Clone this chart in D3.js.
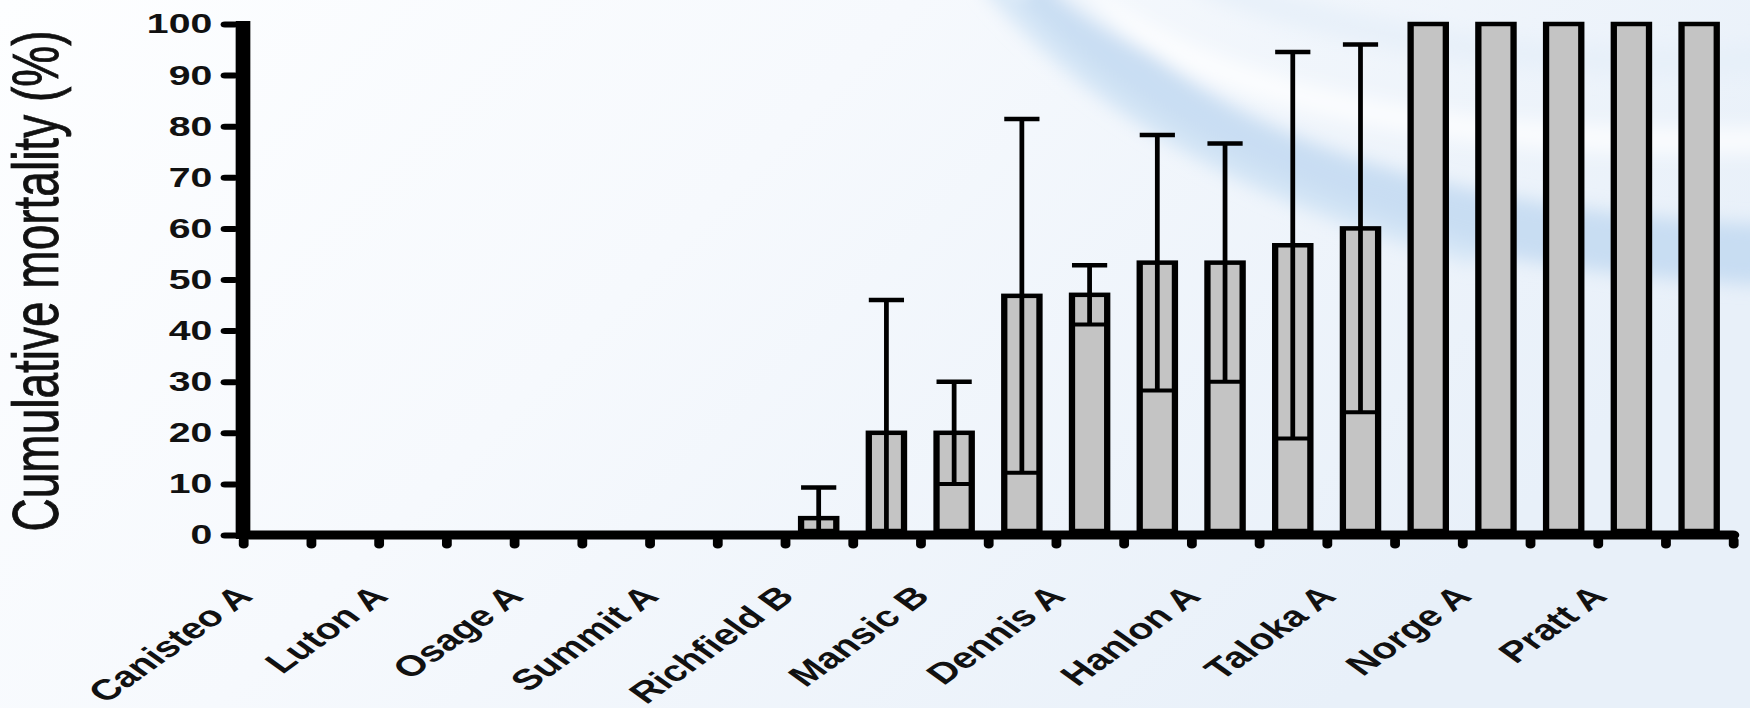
<!DOCTYPE html>
<html>
<head>
<meta charset="utf-8">
<script src="https://cdn.jsdelivr.net/npm/d3@7"></script>
<style>
  html, body { margin: 0; padding: 0; background: #fbfcfe; }
  svg { display: block; }
</style>
</head>
<body>
<svg id="chart" width="1750" height="708"></svg>
<script>
// sites along the x axis, only every other one carries a label
var siteLabels = ["Canisteo A", "", "Luton A", "", "Osage A", "", "Summit A", "", "Richfield B", "",
  "Mansic B", "", "Dennis A", "", "Hanlon A", "", "Taloka A", "", "Norge A", "", "Pratt A", ""];
// mean cumulative mortality (%) and error (+/-)
var mortality = [0, 0, 0, 0, 0, 0, 0, 0, 3.3, 20, 20, 46.8, 47, 53.3, 53.3, 56.7, 60, 100, 100, 100, 100, 100];
var errors    = [0, 0, 0, 0, 0, 0, 0, 0, 6, 26, 10, 34.6, 5.8, 25, 23.3, 37.8, 36, 0, 0, 0, 0, 0];
var yTicks = [0, 10, 20, 30, 40, 50, 60, 70, 80, 90, 100];

var W = 1750, H = 708;
var sx = 1.4; // the picture is stretched sideways

var svg = d3.select("#chart");
var defs = svg.append("defs");

var bg = defs.append("linearGradient").attr("id", "bg")
  .attr("x1", 0).attr("y1", 0).attr("x2", 1).attr("y2", 0.4);
bg.append("stop").attr("offset", "0%").attr("stop-color", "#fdfeff");
bg.append("stop").attr("offset", "45%").attr("stop-color", "#f6f9fd");
bg.append("stop").attr("offset", "100%").attr("stop-color", "#e8f0f9");
defs.append("filter").attr("id", "blur").attr("x", "-20%").attr("y", "-20%")
  .attr("width", "140%").attr("height", "140%")
  .append("feGaussianBlur").attr("stdDeviation", 9);

svg.append("rect").attr("width", W).attr("height", H).attr("fill", "url(#bg)");

// swoosh in the top right corner
var sw = svg.append("g").attr("filter", "url(#blur)");
sw.append("path").attr("d", "M1040,-20 C1140,120 1340,235 1770,255")
  .attr("fill", "none").attr("stroke", "#c2d9f1").attr("stroke-width", 60).attr("opacity", 0.85);
sw.append("path").attr("d", "M1060,-20 C1180,80 1400,150 1770,140")
  .attr("fill", "none").attr("stroke", "#ffffff").attr("stroke-width", 26).attr("opacity", 0.75);
sw.append("path").attr("d", "M990,-20 C1080,90 1230,190 1480,255")
  .attr("fill", "none").attr("stroke", "#d4e5f6").attr("stroke-width", 22).attr("opacity", 0.9);
sw.append("path").attr("d", "M1200,-20 C1350,40 1550,70 1770,60")
  .attr("fill", "none").attr("stroke", "#e6eff9").attr("stroke-width", 30).attr("opacity", 0.8);

// everything else is drawn in unstretched units and stretched by sx
var g = svg.append("g").attr("transform", "scale(" + sx + ",1)");

var x0 = 243 / sx, x1 = 1733 / sx;
var n = mortality.length;

var x = d3.scaleBand().domain(d3.range(n)).range([x0, x1]).paddingInner(0).paddingOuter(0);
var xEdge = d3.scaleLinear().domain([0, n]).range([x0, x1]);
var y = d3.scaleLinear().domain([0, 100]).range([535, 24]);

var barW = x.bandwidth() * 0.52;

// bars
var bars = g.append("g");
bars.selectAll("rect")
  .data(mortality.map(function (v, i) { return { i: i, v: v, e: errors[i] }; }).filter(function (d) { return d.v > 0; }))
  .enter()
  .append("rect")
  .attr("x", function (d) { return x(d.i) + (x.bandwidth() - barW) / 2; })
  .attr("y", function (d) { return y(d.v); })
  .attr("width", barW)
  .attr("height", function (d) { return y(0) - y(d.v) - 4; })
  .attr("fill", "#c4c4c4")
  .attr("stroke", "#000")
  .attr("stroke-width", 4.5);

// error bars
var errData = mortality.map(function (v, i) { return { i: i, v: v, e: errors[i] }; })
  .filter(function (d) { return d.e > 0; });
var eb = g.append("g").attr("stroke", "#000");
eb.selectAll("line.stem")
  .data(errData)
  .enter()
  .append("line")
  .attr("class", "stem")
  .attr("x1", function (d) { return x(d.i) + x.bandwidth() / 2; })
  .attr("x2", function (d) { return x(d.i) + x.bandwidth() / 2; })
  .attr("y1", function (d) { return y(d.v + d.e); })
  .attr("y2", function (d) { return y(Math.max(0, d.v - d.e)); })
  .attr("stroke-width", 3.4);
eb.selectAll("line.cap")
  .data(errData)
  .enter()
  .append("line")
  .attr("class", "cap")
  .attr("x1", function (d) { return x(d.i) + (x.bandwidth() - barW) / 2; })
  .attr("x2", function (d) { return x(d.i) + (x.bandwidth() + barW) / 2; })
  .attr("y1", function (d) { return y(d.v + d.e); })
  .attr("y2", function (d) { return y(d.v + d.e); })
  .attr("stroke-width", 4.5);
eb.selectAll("line.lcap")
  .data(errData.filter(function (d) { return d.v - d.e > 0; }))
  .enter()
  .append("line")
  .attr("class", "lcap")
  .attr("x1", function (d) { return x(d.i) + (x.bandwidth() - barW) / 2; })
  .attr("x2", function (d) { return x(d.i) + (x.bandwidth() + barW) / 2; })
  .attr("y1", function (d) { return y(d.v - d.e); })
  .attr("y2", function (d) { return y(d.v - d.e); })
  .attr("stroke-width", 4);

// y axis
var yAxis = g.append("g")
  .attr("transform", "translate(" + x0 + ",0)")
  .call(d3.axisLeft(y).tickValues(yTicks).tickSize(0).tickSizeOuter(0).tickPadding(22));
yAxis.select(".domain").remove();
yAxis.append("line").attr("x1", 0).attr("x2", 0).attr("y1", y(100) - 3).attr("y2", y(0) + 4)
  .attr("stroke", "#000").attr("stroke-width", 10.5);
yAxis.selectAll(".tick").append("line")
  .attr("x1", -13).attr("x2", -6)
  .attr("stroke", "#000").attr("stroke-width", 6).attr("stroke-linecap", "round");
yAxis.selectAll(".tick text")
  .attr("font-family", "Liberation Sans, Arial, sans-serif")
  .attr("font-weight", "bold")
  .attr("font-size", 28)
  .attr("fill", "#111");

// x axis
var xAxis = g.append("g")
  .attr("transform", "translate(0," + y(0) + ")")
  .call(d3.axisBottom(xEdge).tickValues(d3.range(n + 1)).tickFormat("").tickSize(0).tickSizeOuter(0));
xAxis.select(".domain").remove();
xAxis.append("line").attr("x1", x0).attr("x2", x1).attr("y1", 0).attr("y2", 0)
  .attr("stroke", "#000").attr("stroke-width", 9).attr("stroke-linecap", "round");
xAxis.selectAll(".tick").append("line")
  .attr("y1", 5).attr("y2", 10)
  .attr("stroke", "#000").attr("stroke-width", 7).attr("stroke-linecap", "round");

// site labels, slanted
g.append("g").selectAll("text")
  .data(siteLabels.map(function (s, i) { return { s: s, i: i }; }).filter(function (d) { return d.s !== ""; }))
  .enter()
  .append("text")
  .attr("transform", function (d) { return "translate(" + (x(d.i) + 8) + ",598) rotate(-45)"; })
  .attr("text-anchor", "end")
  .attr("font-family", "Liberation Sans, Arial, sans-serif")
  .attr("font-weight", "bold")
  .attr("font-size", 29)
  .attr("fill", "#111")
  .text(function (d) { return d.s; });

// y title
g.append("text")
  .attr("transform", "translate(" + (58 / sx) + ",281) rotate(-90)")
  .attr("text-anchor", "middle")
  .attr("font-family", "Liberation Sans, Arial, sans-serif")
  .attr("font-size", 46)
  .attr("fill", "#111")
  .attr("stroke", "#111")
  .attr("stroke-width", 0.6)
  .text("Cumulative mortality (%)");
</script>
</body>
</html>
